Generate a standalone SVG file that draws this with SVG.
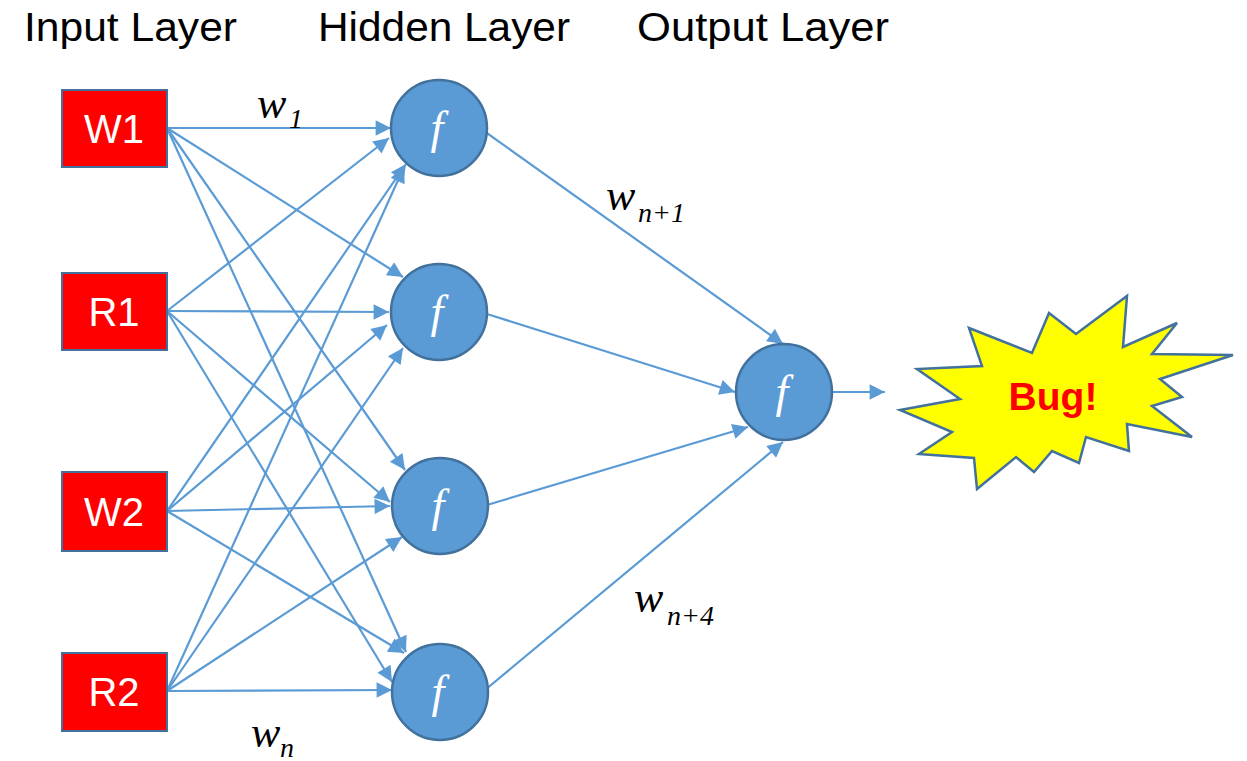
<svg xmlns="http://www.w3.org/2000/svg" width="1247" height="761" viewBox="0 0 1247 761">
<style>
.title{font-family:"Liberation Sans",Arial,sans-serif;font-size:40px;fill:#000}
.box{fill:#FF0000;stroke:#41719C;stroke-width:2}
.boxt{font-family:"Liberation Sans",Arial,sans-serif;font-size:40px;fill:#fff;text-anchor:middle}
.neuron{fill:#5B9BD5;stroke:#41719C;stroke-width:2.5}
.ft{font-family:"Liberation Serif","Times New Roman",serif;font-style:italic;font-size:46px;fill:#fff;text-anchor:middle}
.conn line{stroke:#5B9BD5;stroke-width:2.2;marker-end:url(#arr)}
.w{font-family:"Liberation Serif","Times New Roman",serif;font-style:italic;font-size:44px;fill:#000}
.sub{font-size:28px}
.star{fill:#FFFF00;stroke:#41719C;stroke-width:2.5;stroke-linejoin:miter}
.bug{font-family:"Liberation Sans",Arial,sans-serif;font-weight:bold;font-size:39px;fill:#FF0000;text-anchor:middle}
</style>
<defs>
<marker id="arr" viewBox="0 0 10 10" refX="10" refY="5" markerWidth="8.5" markerHeight="7" orient="auto" markerUnits="strokeWidth">
<path d="M0,0 L10,5 L0,10 z" fill="#5B9BD5"/>
</marker>
</defs>
<rect width="1247" height="761" fill="#fff"/>
<g id="titles">
<text class="title" x="24" y="41" textLength="213" lengthAdjust="spacingAndGlyphs">Input Layer</text>
<text class="title" x="318" y="41" textLength="252" lengthAdjust="spacingAndGlyphs">Hidden Layer</text>
<text class="title" x="637" y="41" textLength="252" lengthAdjust="spacingAndGlyphs">Output Layer</text>
</g>
<g id="connectors" class="conn">
<line x1="167" y1="128" x2="391" y2="128"/>
<line x1="167" y1="311" x2="389" y2="138"/>
<line x1="167" y1="511" x2="406" y2="164"/>
<line x1="167" y1="691" x2="404" y2="167"/>
<line x1="167" y1="128" x2="403" y2="277"/>
<line x1="167" y1="311" x2="389" y2="312"/>
<line x1="167" y1="511" x2="387" y2="325"/>
<line x1="167" y1="691" x2="403" y2="348"/>
<line x1="167" y1="128" x2="405" y2="470"/>
<line x1="167" y1="311" x2="390" y2="502"/>
<line x1="167" y1="511" x2="390" y2="506"/>
<line x1="167" y1="691" x2="402" y2="537"/>
<line x1="167" y1="128" x2="406" y2="652"/>
<line x1="167" y1="311" x2="392" y2="682"/>
<line x1="167" y1="511" x2="404" y2="653"/>
<line x1="167" y1="691" x2="392" y2="690"/>
<line x1="484" y1="131" x2="783" y2="344"/>
<line x1="487" y1="314" x2="735" y2="392"/>
<line x1="487" y1="505" x2="748" y2="427"/>
<line x1="485" y1="690" x2="783" y2="442"/>
<line x1="832" y1="392" x2="885" y2="392"/>
</g>
<g id="W1"><rect class="box" x="62" y="90" width="105" height="77"/><text class="boxt" x="114" y="143">W1</text></g>
<g id="R1"><rect class="box" x="62" y="273" width="105" height="77"/><text class="boxt" x="114" y="326">R1</text></g>
<g id="W2"><rect class="box" x="62" y="472" width="105" height="79"/><text class="boxt" x="114" y="526">W2</text></g>
<g id="R2"><rect class="box" x="62" y="653" width="105" height="78"/><text class="boxt" x="114" y="706">R2</text></g>
<g id="H1"><circle class="neuron" cx="439" cy="128" r="48"/><text class="ft" x="437" y="143">f</text></g>
<g id="H2"><circle class="neuron" cx="439" cy="312" r="48"/><text class="ft" x="437" y="327">f</text></g>
<g id="H3"><circle class="neuron" cx="440" cy="506" r="48"/><text class="ft" x="438" y="521">f</text></g>
<g id="H4"><circle class="neuron" cx="440" cy="692" r="48"/><text class="ft" x="438" y="707">f</text></g>
<g id="O"><circle class="neuron" cx="784" cy="392" r="48"/><text class="ft" x="782" y="407">f</text></g>
<g id="bug">
<polygon class="star" points="900,410 960,399 917,369 982,366 969,328 1032,353 1049,313 1076,334 1127,296 1123,347 1177,323 1152,354 1233,355 1160,379 1182,397 1152,406 1192,437 1127,424 1129,451 1086,437 1079,463 1052,451 1034,472 1016,457 977,489 974,458 919,454 952,432"/>
<text class="bug" x="1053" y="410">Bug!</text>
</g>
<g id="weights">
<text class="w" x="257" y="118">w<tspan class="sub" x="289" y="128">1</tspan></text>
<text class="w" x="606" y="210">w<tspan class="sub" x="638" y="222">n+1</tspan></text>
<text class="w" x="634" y="612">w<tspan class="sub" x="667" y="625">n+4</tspan></text>
<text class="w" x="251" y="747">w<tspan class="sub" x="280" y="757">n</tspan></text>
</g>
</svg>
